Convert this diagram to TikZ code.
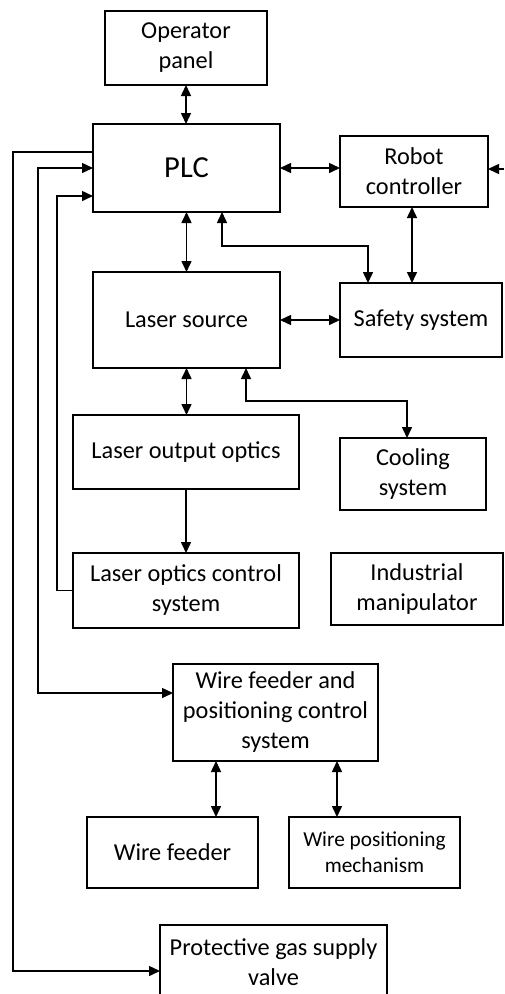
\documentclass[tikz,border=0pt]{standalone}
\usepackage{fontspec}
\setmainfont{Carlito}
\usetikzlibrary{arrows.meta}
\tikzset{
  blk/.style={draw, line width=1.5pt, inner sep=0pt, outer sep=0pt, align=center,
    font=\fontsize{24.3}{30}\selectfont},
  conn/.style={line width=1.5pt, arrows={-Triangle[length=11pt,width=10pt]}},
  biconn/.style={line width=1.5pt, arrows={Triangle[length=11pt,width=10pt]-Triangle[length=11pt,width=10pt]}},
  plain/.style={line width=1.5pt}
}
\begin{document}
\begin{tikzpicture}[x=1pt,y=-1pt]
\clip (0,0) rectangle (504,994);
\useasboundingbox (0,0) rectangle (504,994);

% blocks
\node[blk, minimum width=162, minimum height=74] (op) at (186,48) {Operator\\panel};
\node[blk, minimum width=187, minimum height=88, font=\fontsize{30.5}{36}\selectfont] (plc) at (186.5,168) {PLC};
\node[blk, minimum width=148, minimum height=71] (rc) at (414,171.5) {Robot\\controller};
\node[blk, minimum width=187, minimum height=96] (ls) at (186.5,320) {Laser source};
\node[blk, minimum width=162, minimum height=74] (ss) at (421,320) {Safety system};
\node[blk, minimum width=226, minimum height=74] (loo) at (186,452) {Laser output optics};
\node[blk, minimum width=146, minimum height=72] (cs) at (413,474) {Cooling\\system};
\node[blk, minimum width=226, minimum height=75] (locs) at (186,590.5) {Laser optics control\\system};
\node[blk, minimum width=172, minimum height=72] (im) at (417,589) {Industrial\\manipulator};
\node[blk, minimum width=205, minimum height=97] (wfp) at (275.5,712.5) {Wire feeder and\\positioning control\\system};
\node[blk, minimum width=171, minimum height=71] (wf) at (172.5,852.5) {Wire feeder};
\node[blk, minimum width=171, minimum height=71, font=\fontsize{21.3}{26}\selectfont] (wpm) at (374.5,852.5) {Wire positioning\\mechanism};
\node[blk, minimum width=227, minimum height=74] (pgv) at (273.5,962) {Protective gas supply\\valve};

% bend points
\coordinate (rin) at (504,169);
\coordinate (sb) at (222,246);
\coordinate (cb) at (246,401);
\coordinate (la) at (57,196);
\coordinate (lb) at (38,693);
\coordinate (lc) at (13,152);
\coordinate (ld) at (13,971);

% connectors
\draw[biconn] (op.south) -- (op.south |- plc.north);
\draw[biconn] (plc.east) -- (plc.east -| rc.west);
\draw[conn] (rin) -- (rin -| rc.east);
\draw[biconn] ([xshift=-2pt]rc.south) -- ([xshift=-2pt]rc.south |- ss.north);
\draw[biconn] (plc.south) -- (plc.south |- ls.north);
\draw[biconn] (sb |- plc.south) -- (sb) -| ([xshift=-53pt]ss.north);
\draw[biconn] (ls.east) -- (ss.west);
\draw[biconn] (ls.south) -- (ls.south |- loo.north);
\draw[biconn] (cb |- ls.south) -- (cb) -| ([xshift=-6pt]cs.north);
\draw[conn] (loo.south) -- (locs.north);
\draw[conn] (locs.west) -| (la) -- (la -| plc.west);
\draw[biconn] (plc.west) -| (lb) -- (lb -| wfp.west);
\draw[conn] (lc -| plc.west) -- (lc) -- (ld) -- (ld -| pgv.west);
\draw[biconn] ([xshift=-59.5pt]wfp.south) -- ([xshift=-59.5pt]wfp.south |- wf.north);
\draw[biconn] ([xshift=61.5pt]wfp.south) -- ([xshift=61.5pt]wfp.south |- wpm.north);
\end{tikzpicture}
\end{document}
